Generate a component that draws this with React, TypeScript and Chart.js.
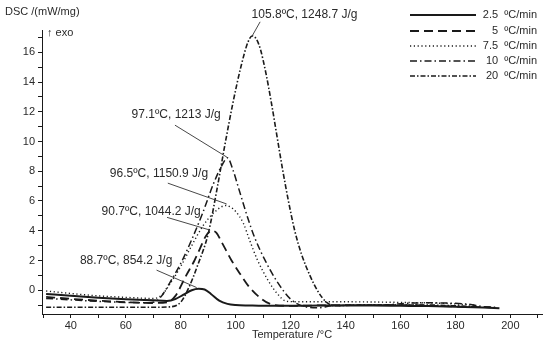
import React, { useEffect, useRef } from "react";
import { Chart, registerables } from "chart.js";

Chart.register(...registerables);

// ---------- data ----------
const seriesLabels = ["2.5  ºC/min", "5  ºC/min", "7.5  ºC/min", "10  ºC/min", "20  ºC/min"];

const temp25 = [31, 40, 50, 60, 70, 75, 78, 81, 84, 86.5, 88.7, 91, 94, 97, 100, 105, 110, 120, 130, 140, 150, 160, 170, 180, 190, 196];
const dsc25 = [-0.25, -0.38, -0.5, -0.6, -0.68, -0.72, -0.6, -0.3, 0.0, 0.1, 0.05, -0.25, -0.7, -0.92, -1.0, -1.03, -1.05, -1.05, -1.03, -1.02, -1.03, -1.05, -1.07, -1.12, -1.17, -1.22];

const temp5 = [31, 40, 50, 60, 70, 75, 78, 82, 85, 87, 89, 91.3, 93, 95, 98.5, 101.6, 105, 109.5, 113, 120, 140, 160, 180, 193];
const dsc5 = [-0.45, -0.58, -0.7, -0.8, -0.86, -0.82, -0.4, 1.0, 2.0, 2.8, 3.6, 4.0, 3.85, 3.2, 2.0, 1.1, 0.2, -0.6, -0.95, -1.05, -1.0, -1.0, -1.1, -1.15];

const temp75 = [31, 40, 50, 60, 70, 73, 76, 80, 84, 88, 92, 96.5, 98, 100, 102.8, 105, 108, 112, 115, 118.6, 125, 140, 160, 175, 187];
const dsc75 = [-0.05, -0.22, -0.38, -0.48, -0.55, -0.35, 0.4, 1.6, 3.0, 4.3, 5.2, 5.7, 5.6, 5.3, 4.5, 3.4, 2.0, 0.6, -0.2, -0.75, -0.78, -0.78, -0.82, -0.88, -1.0];

const temp10 = [31, 40, 50, 60, 68, 71, 73, 76, 80, 84, 88, 92, 95, 97, 99, 101, 104.5, 107, 111, 115, 120, 125, 130, 135, 145, 155, 162, 170, 178, 185, 190, 195];
const dsc10 = [-0.55, -0.65, -0.75, -0.82, -0.85, -0.75, -0.4, 0.5, 1.8, 3.4, 5.2, 7.2, 8.4, 8.9, 8.1, 6.9, 4.8, 3.5, 1.9, 0.6, -0.6, -1.1, -1.18, -1.05, -1.0, -0.98, -0.88, -0.85, -0.87, -0.95, -1.1, -1.15];

const temp20 = [31, 50, 70, 76, 80, 83, 86, 90, 93, 96, 99, 102, 104.5, 106, 107.5, 109, 111, 113, 115, 117, 119.2, 121.5, 124, 127, 130, 133, 136, 140, 150, 160, 170, 180, 188];
const dsc20 = [-1.15, -1.15, -1.15, -1.12, -0.8, 0.2, 1.6, 3.8, 6.6, 9.7, 12.6, 15.1, 16.7, 17.1, 16.9, 16.2, 14.6, 12.6, 10.4, 8.2, 6.0, 4.0, 2.4, 1.0, -0.1, -0.8, -1.05, -1.02, -1.0, -1.0, -1.0, -1.05, -1.1];

const peakTexts = ["105.8ºC, 1248.7 J/g", "97.1ºC, 1213 J/g", "96.5ºC, 1150.9 J/g", "90.7ºC, 1044.2 J/g", "88.7ºC, 854.2 J/g"];
// peak points the leader lines point to (temperature, DSC)
const peakTemps = [106, 96.8, 96.7, 90.7, 85.8];
const peakValues = [17.1, 8.95, 5.8, 4.04, 0.18];

// ---------- layout (data-space anchors for the annotation texts / leader starts) ----------
const labelAnchors: [number, number][] = [[105.8, 18.55], [62.1, 11.8], [54.2, 7.87], [51.2, 5.25], [43.3, 2.0]];
const leaderStarts: [number, number][] = [[108.9, 18.05], [77.9, 11.1], [75.3, 7.2], [75.0, 4.9], [71.2, 1.35]];

const FONT = "'Liberation Sans', Arial, Helvetica, sans-serif";
const INK = "#1a1a1a";
const TEXT = "#2a2a2a";

const lineStyles = [
  { dash: [] as number[], width: 2 },
  { dash: [9, 5], width: 1.8 },
  { dash: [1.2, 2.6], width: 1.4 },
  { dash: [7, 3, 1.5, 3], width: 1.5 },
  { dash: [5, 2, 1.5, 2], width: 1.6 },
];

export default function App() {
  const ref = useRef<HTMLCanvasElement>(null);

  useEffect(() => {
    if (!ref.current) return;
    const toXY = (ts: number[], vs: number[]) => ts.map((t, i) => ({ x: t, y: vs[i] }));
    const allT = [temp25, temp5, temp75, temp10, temp20];
    const allV = [dsc25, dsc5, dsc75, dsc10, dsc20];

    const datasets = allT.map((ts, i) => ({
      label: seriesLabels[i],
      data: toXY(ts, allV[i]),
      showLine: true,
      borderColor: INK,
      backgroundColor: INK,
      borderWidth: lineStyles[i].width,
      borderDash: lineStyles[i].dash,
      pointRadius: 0,
      cubicInterpolationMode: "monotone" as const,
      fill: false,
    }));

    const overlay = {
      id: "overlay",
      afterDraw(chart: any) {
        const ctx = chart.ctx as CanvasRenderingContext2D;
        const xs = chart.scales.x;
        const ys = chart.scales.y;
        const ca = chart.chartArea;
        ctx.save();
        // annotations
        ctx.font = `12px ${FONT}`;
        ctx.fillStyle = TEXT;
        ctx.textBaseline = "middle";
        ctx.textAlign = "left";
        peakTexts.forEach((txt, i) => {
          ctx.strokeStyle = "#333";
          ctx.lineWidth = 0.9;
          ctx.setLineDash([]);
          ctx.beginPath();
          ctx.moveTo(xs.getPixelForValue(leaderStarts[i][0]), ys.getPixelForValue(leaderStarts[i][1]));
          ctx.lineTo(xs.getPixelForValue(peakTemps[i]), ys.getPixelForValue(peakValues[i]));
          ctx.stroke();
          ctx.fillText(txt, xs.getPixelForValue(labelAnchors[i][0]), ys.getPixelForValue(labelAnchors[i][1]));
        });
        // legend
        ctx.font = `11px ${FONT}`;
        const rows = [15, 31, 46, 61, 76];
        seriesLabels.forEach((lab, i) => {
          ctx.strokeStyle = INK;
          ctx.lineWidth = lineStyles[i].width;
          ctx.setLineDash(lineStyles[i].dash);
          ctx.beginPath();
          ctx.moveTo(410, rows[i]);
          ctx.lineTo(476, rows[i]);
          ctx.stroke();
          ctx.setLineDash([]);
          ctx.textAlign = "right";
          ctx.fillText(lab, 537, rows[i]);
        });
        // axis titles
        ctx.textAlign = "left";
        ctx.fillText("DSC /(mW/mg)", 5, 12);
        ctx.fillText("↑ exo", 47, 33);
        ctx.textAlign = "center";
        ctx.fillText("Temperature /°C", (ca.left + ca.right) / 2, 335);
        ctx.restore();
      },
    };

    const chart = new Chart(ref.current, {
      type: "scatter",
      data: { datasets },
      options: {
        animation: false,
        responsive: false,
        devicePixelRatio: 1,
        layout: { padding: { left: 0, top: 30, right: 8, bottom: 0 } },
        plugins: { legend: { display: false }, tooltip: { enabled: false } },
        scales: {
          x: {
            type: "linear",
            min: 29.5,
            max: 211.5,
            afterFit: (s: any) => { s.height = 34; },
            border: { display: true, color: INK, width: 1 },
            grid: { drawOnChartArea: false, drawTicks: true, tickLength: 4, color: INK },
            ticks: {
              stepSize: 10,
              includeBounds: false,
              autoSkip: false,
              maxRotation: 0,
              padding: 1,
              color: TEXT,
              font: { family: FONT, size: 11 },
              callback: (v: any) => (Number(v) % 20 === 0 && v >= 40 && v <= 200 ? String(v) : ""),
            },
          },
          y: {
            type: "linear",
            min: -1.6,
            max: 17.5,
            afterFit: (s: any) => { s.width = 42; },
            border: { display: true, color: INK, width: 1 },
            grid: { drawOnChartArea: false, drawTicks: true, tickLength: 4, color: INK },
            ticks: {
              stepSize: 1,
              includeBounds: false,
              autoSkip: false,
              padding: 3,
              color: TEXT,
              font: { family: FONT, size: 11 },
              callback: (v: any) => (Number(v) % 2 === 0 && v >= 0 ? String(v) : ""),
            },
          },
        },
      },
      plugins: [overlay],
    } as any);

    return () => chart.destroy();
  }, []);

  return (
    <div style={{ position: "absolute", left: 0, top: 0, width: 550, height: 348, background: "#fff" }}>
      <canvas ref={ref} width={550} height={348} style={{ display: "block" }} />
    </div>
  );
}
